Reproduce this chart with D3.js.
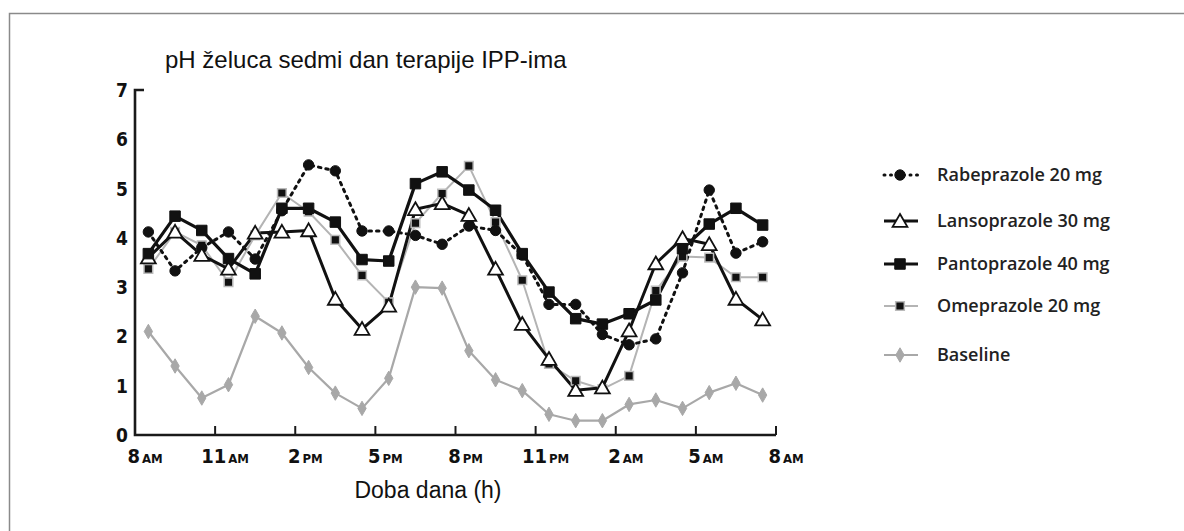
<!DOCTYPE html>
<html>
<head>
<meta charset="utf-8">
<script src="https://cdn.jsdelivr.net/npm/d3@7"></script>
<style>
  body { margin: 0; background: #fff; }
  svg { display: block; }
  .tick-lbl { font-family: "DejaVu Sans Condensed", "Liberation Sans Narrow", sans-serif; font-stretch: condensed; font-weight: bold; fill: #111; }
  .legend text { font-family: "Open Sans", sans-serif; font-weight: 600; font-size: 18px; fill: #222; }
</style>
</head>
<body>
<svg id="chart"></svg>
<script>
// sati od 8 AM (sredina svakog sata)
const hours = [0.5, 1.5, 2.5, 3.5, 4.5, 5.5, 6.5, 7.5, 8.5, 9.5, 10.5, 11.5,
               12.5, 13.5, 14.5, 15.5, 16.5, 17.5, 18.5, 19.5, 20.5, 21.5, 22.5, 23.5];

const rabeprazole  = [4.12, 3.33, 3.80, 4.12, 3.57, 4.55, 5.48, 5.36, 4.14, 4.14, 4.05, 3.87,
                      4.24, 4.15, 3.65, 2.65, 2.65, 2.04, 1.83, 1.95, 3.29, 4.97, 3.69, 3.92];
const lansoprazole = [3.60, 4.12, 3.65, 3.37, 4.10, 4.12, 4.15, 2.76, 2.15, 2.62, 4.58, 4.70,
                      4.46, 3.37, 2.25, 1.54, 0.91, 0.96, 2.12, 3.48, 3.99, 3.87, 2.76, 2.34];
const pantoprazole = [3.68, 4.44, 4.15, 3.58, 3.27, 4.60, 4.60, 4.32, 3.56, 3.53, 5.10, 5.34,
                      4.97, 4.56, 3.68, 2.90, 2.36, 2.25, 2.46, 2.74, 3.78, 4.28, 4.60, 4.26];
const omeprazole   = [3.37, 4.12, 3.85, 3.10, 4.05, 4.91, 4.53, 3.96, 3.24, 2.69, 4.30, 4.90,
                      5.46, 4.32, 3.14, 1.44, 1.10, 0.93, 1.20, 2.93, 3.62, 3.60, 3.20, 3.20];
const baseline     = [2.10, 1.40, 0.75, 1.02, 2.41, 2.07, 1.37, 0.85, 0.54, 1.15, 3.00, 2.98,
                      1.71, 1.12, 0.90, 0.42, 0.29, 0.29, 0.62, 0.71, 0.54, 0.86, 1.05, 0.81];

const tickHours = [0, 3, 6, 9, 12, 15, 18, 21, 24];
const tickNums  = ["8", "11", "2", "5", "8", "11", "2", "5", "8"];
const tickAmPm  = ["AM", "AM", "PM", "PM", "PM", "PM", "AM", "AM", "AM"];
const yTicks    = [0, 1, 2, 3, 4, 5, 6, 7];

const seriesNames = ["Rabeprazole 20 mg", "Lansoprazole 30 mg", "Pantoprazole 40 mg", "Omeprazole 20 mg", "Baseline"];

const width = 1184, height = 531;
const svg = d3.select("#chart").attr("width", width).attr("height", height);

// okvir
svg.append("rect")
    .attr("x", 9.5).attr("y", 13.5)
    .attr("width", 1300).attr("height", 700)
    .attr("fill", "none").attr("stroke", "#8a8a8a").attr("stroke-width", 1.5);

const x = d3.scaleLinear().domain([0, 24]).range([135, 776]);
const y = d3.scaleLinear().domain([0, 7]).range([435, 90]);

// stilovi serija
const styles = [
    { data: rabeprazole,  color: "#111", width: 3,   dash: "2.5,5", sym: d3.symbolCircle,   size: 85,  fill: "#111", stroke: "#111", sw: 1 },
    { data: lansoprazole, color: "#111", width: 3,   dash: null,    sym: d3.symbolTriangle, size: 95,  fill: "#fff", stroke: "#111", sw: 1.8 },
    { data: pantoprazole, color: "#111", width: 3.2, dash: null,    sym: d3.symbolSquare,   size: 110, fill: "#111", stroke: "#111", sw: 1 },
    { data: omeprazole,   color: "#b4b4b4", width: 2, dash: null,   sym: d3.symbolSquare,   size: 75,  fill: "#111", stroke: "#bbb", sw: 1.5 },
    { data: baseline,     color: "#a8a8a8", width: 2.2, dash: null, sym: d3.symbolDiamond,  size: 60,  fill: "#a8a8a8", stroke: "#a8a8a8", sw: 1 }
];

const line = d3.line().x((d, i) => x(hours[i])).y(d => y(d));

// crtanje od pozadine prema naprijed
const order = [4, 3, 0, 1, 2];
order.forEach(k => {
    const s = styles[k];
    svg.append("path")
        .datum(s.data)
        .attr("d", line)
        .attr("fill", "none")
        .attr("stroke", s.color)
        .attr("stroke-width", s.width)
        .attr("stroke-linejoin", "round")
        .attr("stroke-linecap", s.dash ? "round" : "butt")
        .attr("stroke-dasharray", s.dash);
});
order.forEach(k => {
    const s = styles[k];
    svg.append("g").selectAll("path")
        .data(s.data)
        .enter()
        .append("path")
        .attr("transform", (d, i) => `translate(${x(hours[i])},${y(d) + (s.sym === d3.symbolTriangle ? 1.5 : 0)})`)
        .attr("d", d3.symbol().type(s.sym).size(s.size))
        .attr("fill", s.fill)
        .attr("stroke", s.stroke)
        .attr("stroke-width", s.sw);
});

// osi
const axisColor = "#1a1a1a";
svg.append("path")
    .attr("d", `M${x(0) + 9},${y(7)}H${x(0)}V${y(0)}H${x(24)}`)
    .attr("fill", "none").attr("stroke", axisColor).attr("stroke-width", 2.6);

svg.append("g").selectAll("line")
    .data(tickHours)
    .enter()
    .append("line")
    .attr("x1", d => x(d)).attr("x2", d => x(d))
    .attr("y1", y(0)).attr("y2", y(0) - 9)
    .attr("stroke", axisColor).attr("stroke-width", 2);

const xl = svg.append("g").selectAll("text")
    .data(tickHours)
    .enter()
    .append("text")
    .attr("class", "tick-lbl")
    .attr("x", d => x(d) + 10)
    .attr("y", 463)
    .attr("text-anchor", "middle");
xl.append("tspan").style("font-size", "20px").text((d, i) => tickNums[i]);
xl.append("tspan").style("font-size", "13px").attr("dx", 2).text((d, i) => tickAmPm[i]);

svg.append("g").selectAll("text")
    .data(yTicks)
    .enter()
    .append("text")
    .attr("class", "tick-lbl")
    .attr("x", 128)
    .attr("y", d => y(d) + 7)
    .attr("text-anchor", "end")
    .style("font-size", "19px")
    .text(d => d);

// naslovi
svg.append("text")
    .attr("x", 165).attr("y", 68)
    .style("font-family", "'Liberation Sans', Arial, sans-serif")
    .style("font-size", "24px")
    .attr("fill", "#111")
    .text("pH želuca sedmi dan terapije IPP-ima");

svg.append("text")
    .attr("x", 428).attr("y", 498)
    .attr("text-anchor", "middle")
    .style("font-family", "'Liberation Sans', Arial, sans-serif")
    .style("font-size", "23px")
    .attr("fill", "#111")
    .text("Doba dana (h)");

// legenda
const legendY = [175, 221, 264, 306, 355];
const legend = svg.append("g").attr("class", "legend");
styles.forEach((s, i) => {
    const g = legend.append("g").attr("transform", `translate(0,${legendY[i]})`);
    g.append("line")
        .attr("x1", 884).attr("x2", 918)
        .attr("stroke", s.color)
        .attr("stroke-width", s.width)
        .attr("stroke-linecap", s.dash ? "round" : "butt")
        .attr("stroke-dasharray", s.dash ? "1,5.5" : null);
    g.append("path")
        .attr("transform", `translate(900,${s.sym === d3.symbolTriangle ? 1.5 : 0})`)
        .attr("d", d3.symbol().type(s.sym).size(s.size))
        .attr("fill", s.fill)
        .attr("stroke", s.stroke)
        .attr("stroke-width", s.sw);
    g.append("text")
        .attr("x", 937).attr("y", 6)
        .text(seriesNames[i]);
});
</script>
</body>
</html>
